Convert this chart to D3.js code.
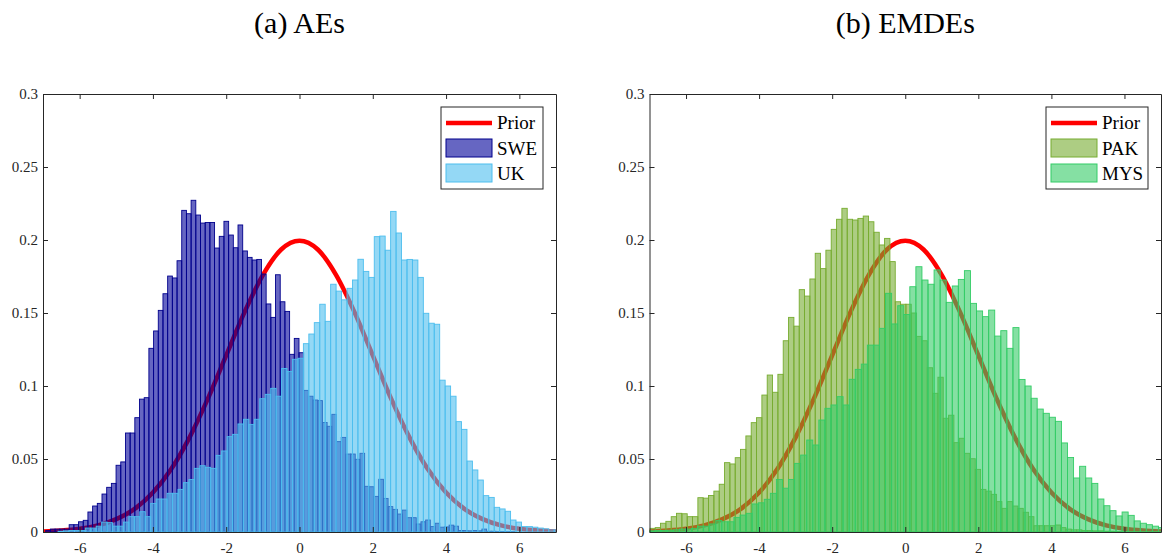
<!DOCTYPE html>
<html>
<head>
<meta charset="utf-8">
<script src="https://cdn.jsdelivr.net/npm/d3@7"></script>
<style>
  html, body { margin: 0; padding: 0; background: #fff; }
  svg { display: block; }
</style>
</head>
<body>
<svg id="chart" width="1162" height="557"></svg>
<script>
// ---- Axis ticks ----
const xTicks = [-6, -4, -2, 0, 2, 4, 6];
const yTicks = [0, 0.05, 0.1, 0.15, 0.2, 0.25, 0.3];
const yTickLabels = ["0", "0.05", "0.1", "0.15", "0.2", "0.25", "0.3"];

// ---- Prior density, sampled every 0.5 ----
const priorX = [-7, -6.5, -6, -5.5, -5, -4.5, -4, -3.5, -3, -2.5, -2, -1.5, -1, -0.5, 0,
                0.5, 1, 1.5, 2, 2.5, 3, 3.5, 4, 4.5, 5, 5.5, 6, 6.5, 7];
const priorY = [0.0004, 0.0010, 0.0022, 0.0045, 0.0088, 0.0158, 0.0270, 0.0431, 0.0648, 0.0913,
                0.1210, 0.1506, 0.1760, 0.1935, 0.1995, 0.1935, 0.1760, 0.1506, 0.1210, 0.0913,
                0.0648, 0.0431, 0.0270, 0.0158, 0.0088, 0.0045, 0.0022, 0.0010, 0.0004];

// ---- Posterior histograms (pdf-normalised): first bin edge, bin width, heights ----
const sweStart = -6.926, sweWidth = 0.128;
const sweValues = [
  0.001, 0.002, 0.002, 0.002, 0.002, 0.005, 0.005, 0.007, 0.008, 0.0137,
  0.0178, 0.0196, 0.026, 0.0306, 0.0333, 0.0457, 0.048, 0.0678, 0.0678, 0.0783,
  0.091, 0.092, 0.1258, 0.1377, 0.1518, 0.1632, 0.1753, 0.174, 0.1858, 0.2203,
  0.218, 0.2272, 0.2171, 0.2116, 0.212, 0.212, 0.1945, 0.2025, 0.2128, 0.2034,
  0.1947, 0.2103, 0.1925, 0.1881, 0.1863, 0.1867, 0.1767, 0.1562, 0.147, 0.1762,
  0.1577, 0.1511, 0.1217, 0.1326, 0.1228, 0.097, 0.093, 0.0904, 0.09, 0.075,
  0.0724, 0.0806, 0.0619, 0.0648, 0.0534, 0.0534, 0.0498, 0.0539, 0.0313, 0.031,
  0.0244, 0.0361, 0.023, 0.0174, 0.0155, 0.0123, 0.015, 0.0098, 0.0098, 0.0055,
  0.007, 0.0082, 0.0037, 0.006, 0.0033, 0.0035, 0.0047, 0.004, 0.001, 0.001,
  0.0008, 0.001, 0.0008, 0.002, 0.0005, 0.0005, 0.0003, 0.0003, 0.0002, 0.0002
];

const ukStart = -6.59, ukWidth = 0.1488;
const ukValues = [
  0.0005, 0.0008, 0.001, 0.001, 0.001, 0.0027, 0.0027, 0.004, 0.0068, 0.0064,
  0.004, 0.004, 0.0068, 0.0105, 0.0105, 0.0139, 0.0105, 0.0196, 0.0226, 0.0226,
  0.0265, 0.0265, 0.0292, 0.0338, 0.036, 0.0436, 0.0454, 0.0443, 0.0436, 0.0525,
  0.0555, 0.0653, 0.0669, 0.074, 0.0772, 0.0737, 0.0772, 0.0913, 0.0943, 0.0984,
  0.093, 0.112, 0.11, 0.1183, 0.119, 0.129, 0.1356, 0.1434, 0.156, 0.1443,
  0.1697, 0.165, 0.159, 0.1669, 0.1726, 0.1868, 0.1785, 0.1744, 0.2023, 0.2027,
  0.193, 0.2196, 0.2048, 0.1863, 0.1867, 0.1863, 0.1744, 0.1498, 0.143, 0.1423,
  0.104, 0.1, 0.093, 0.0756, 0.0703, 0.0486, 0.0425, 0.0356, 0.0249, 0.0237,
  0.0169, 0.0158, 0.0142, 0.0082, 0.0068, 0.0037, 0.0037, 0.0033, 0.0027, 0.0022,
  0.0015, 0.0015
];

const pakStart = -7.136, pakWidth = 0.146;
const pakValues = [
  0.001,
  0.0025, 0.003, 0.006, 0.0073, 0.0105, 0.0128, 0.0125, 0.0105, 0.0105, 0.0235,
  0.0232, 0.025, 0.028, 0.0327, 0.0475, 0.0466, 0.0509, 0.0566, 0.0658, 0.0749,
  0.0783, 0.0938, 0.1075, 0.0957, 0.108, 0.131, 0.147, 0.141, 0.166, 0.1616,
  0.1733, 0.1909, 0.1804, 0.193, 0.2073, 0.2142, 0.2217, 0.2142, 0.2137, 0.2148,
  0.2164, 0.2125, 0.2053, 0.1966, 0.2011, 0.1852, 0.1577, 0.156, 0.156, 0.15,
  0.134, 0.131, 0.1125, 0.095, 0.106, 0.0779, 0.08, 0.0612, 0.0642, 0.0539,
  0.0502, 0.0429, 0.0292, 0.028, 0.0258, 0.0208, 0.0162, 0.0208, 0.0178, 0.0162,
  0.0135, 0.0105, 0.0043, 0.0043, 0.0043, 0.0043, 0.0048, 0.003, 0.002, 0.0015,
  0.0015, 0.001, 0.001, 0.0008, 0.0008, 0.0005, 0.0005, 0.0003, 0.0003, 0.0002,
  0.0002, 0.0002, 0.0001, 0.0001, 0.0001, 0.0001
];

const mysStart = -7.013, mysWidth = 0.166;
const mysValues = [
  0.0008, 0.001, 0.001, 0.0012, 0.0015, 0.002, 0.002, 0.0025, 0.004, 0.004,
  0.0055, 0.0078, 0.007, 0.007, 0.01, 0.0116, 0.0128, 0.0192, 0.02, 0.0224,
  0.0265, 0.036, 0.03, 0.036, 0.047, 0.0527, 0.063, 0.0596, 0.0767, 0.0847,
  0.087, 0.0927, 0.087, 0.1046, 0.1114, 0.115, 0.128, 0.128, 0.1395, 0.1635,
  0.1425, 0.155, 0.149, 0.168, 0.1817, 0.1726, 0.1697, 0.1795, 0.1726, 0.1573,
  0.1685, 0.173, 0.179, 0.1566, 0.1514, 0.1475, 0.152, 0.1342, 0.1379, 0.1258,
  0.14, 0.1045, 0.1, 0.0916, 0.0842, 0.0813, 0.0786, 0.0758, 0.061, 0.051,
  0.037, 0.045, 0.037, 0.0333, 0.0226, 0.018, 0.0146, 0.011, 0.0137, 0.0114,
  0.0076, 0.006, 0.005, 0.004, 0.003
];

// ---- Panel definitions ----
const serif = "'Liberation Serif', 'Times New Roman', serif";
const axisColor = "#262626";

const panels = [
  {
    id: "a", title: "(a) AEs", left: 43, right: 556,
    series: [
      { name: "SWE", start: sweStart, width: sweWidth, values: sweValues, face: "rgb(0,0,153)", edge: "rgb(0,0,140)" },
      { name: "UK",  start: ukStart,  width: ukWidth,  values: ukValues,  face: "rgb(77,190,238)", edge: "rgb(77,190,238)" }
    ]
  },
  {
    id: "b", title: "(b) EMDEs", left: 649.5, right: 1161,
    series: [
      { name: "PAK", start: pakStart, width: pakWidth, values: pakValues, face: "rgb(119,172,48)", edge: "rgb(119,172,48)" },
      { name: "MYS", start: mysStart, width: mysWidth, values: mysValues, face: "rgb(51,204,102)", edge: "rgb(51,204,102)" }
    ]
  }
];

const plotTop = 94, plotBottom = 532;
const svg = d3.select("#chart");

panels.forEach(p => {
  const x = d3.scaleLinear().domain([-7, 7]).range([p.left, p.right]);
  const y = d3.scaleLinear().domain([0, 0.3]).range([plotBottom, plotTop]);
  const g = svg.append("g").attr("class", "panel-" + p.id);

  const clipId = "clip-" + p.id;
  svg.append("clipPath").attr("id", clipId)
    .append("rect")
    .attr("x", p.left).attr("y", plotTop)
    .attr("width", p.right - p.left).attr("height", plotBottom - plotTop);

  // Title
  g.append("text")
    .attr("x", (p.left + p.right) / 2)
    .attr("y", 33)
    .attr("text-anchor", "middle")
    .attr("font-family", serif)
    .attr("font-size", 30)
    .attr("fill", "#000")
    .text(p.title);

  const plot = g.append("g").attr("clip-path", `url(#${clipId})`);

  // Prior curve (drawn underneath the histograms)
  const priorPts = priorX.map((v, i) => [v, priorY[i]]);
  plot.append("path")
    .datum(priorPts)
    .attr("d", d3.line().x(d => x(d[0])).y(d => y(d[1])).curve(d3.curveMonotoneX))
    .attr("fill", "none")
    .attr("stroke", "#ff0000")
    .attr("stroke-width", 4.5);

  // Histograms
  p.series.forEach(s => {
    const bins = s.values.map((v, i) => ({ x0: s.start + i * s.width, x1: s.start + (i + 1) * s.width, v }));
    plot.append("g").selectAll("rect")
      .data(bins)
      .join("rect")
      .attr("x", d => x(d.x0))
      .attr("width", d => x(d.x1) - x(d.x0))
      .attr("y", d => y(d.v))
      .attr("height", d => y(0) - y(d.v))
      .attr("fill", s.face)
      .attr("fill-opacity", 0.6)
      .attr("stroke", s.edge)
      .attr("stroke-width", 0.9);
  });

  // Axes: ticks pointing inward on all four sides
  const fmtY = d => yTickLabels[yTicks.indexOf(d)];
  const axB = g.append("g").attr("transform", `translate(0,${plotBottom})`)
    .call(d3.axisBottom(x).tickValues(xTicks).tickSizeInner(-5).tickSizeOuter(0).tickPadding(10)
      .tickFormat(d => (d < 0 ? "-" + Math.abs(d) : String(d))));
  const axT = g.append("g").attr("transform", `translate(0,${plotTop})`)
    .call(d3.axisTop(x).tickValues(xTicks).tickSizeInner(-5).tickSizeOuter(0).tickFormat(""));
  const axL = g.append("g").attr("transform", `translate(${p.left},0)`)
    .call(d3.axisLeft(y).tickValues(yTicks).tickSizeInner(-5).tickSizeOuter(0).tickPadding(5).tickFormat(fmtY));
  const axR = g.append("g").attr("transform", `translate(${p.right},0)`)
    .call(d3.axisRight(y).tickValues(yTicks).tickSizeInner(-5).tickSizeOuter(0).tickFormat(""));

  [axB, axT, axL, axR].forEach(a => {
    a.attr("font-family", serif).attr("font-size", 15);
    a.selectAll("path.domain").attr("stroke", axisColor).attr("stroke-width", 1);
    a.selectAll(".tick line").attr("stroke", axisColor).attr("stroke-width", 1);
    a.selectAll("text").attr("font-family", serif).attr("font-size", 15).attr("fill", "#262626");
  });

  // Legend
  const lgX = p.right - 115, lgY = 107, lgW = 102, lgH = 82;
  const lg = g.append("g");
  lg.append("rect")
    .attr("x", lgX).attr("y", lgY).attr("width", lgW).attr("height", lgH)
    .attr("fill", "#fff").attr("stroke", axisColor).attr("stroke-width", 1);
  lg.append("line")
    .attr("x1", lgX + 5).attr("x2", lgX + 51)
    .attr("y1", lgY + 16).attr("y2", lgY + 16)
    .attr("stroke", "#ff0000").attr("stroke-width", 4.5);
  lg.append("text")
    .attr("x", lgX + 56).attr("y", lgY + 22)
    .attr("font-family", serif).attr("font-size", 19).attr("fill", "#000")
    .text("Prior");
  p.series.forEach((s, i) => {
    const cy = lgY + 41 + i * 25;
    lg.append("rect")
      .attr("x", lgX + 5).attr("y", cy - 9).attr("width", 46).attr("height", 18)
      .attr("fill", s.face).attr("fill-opacity", 0.6)
      .attr("stroke", s.edge).attr("stroke-width", 1);
    lg.append("text")
      .attr("x", lgX + 56).attr("y", cy + 7)
      .attr("font-family", serif).attr("font-size", 19).attr("fill", "#000")
      .text(s.name);
  });
});
</script>
</body>
</html>
